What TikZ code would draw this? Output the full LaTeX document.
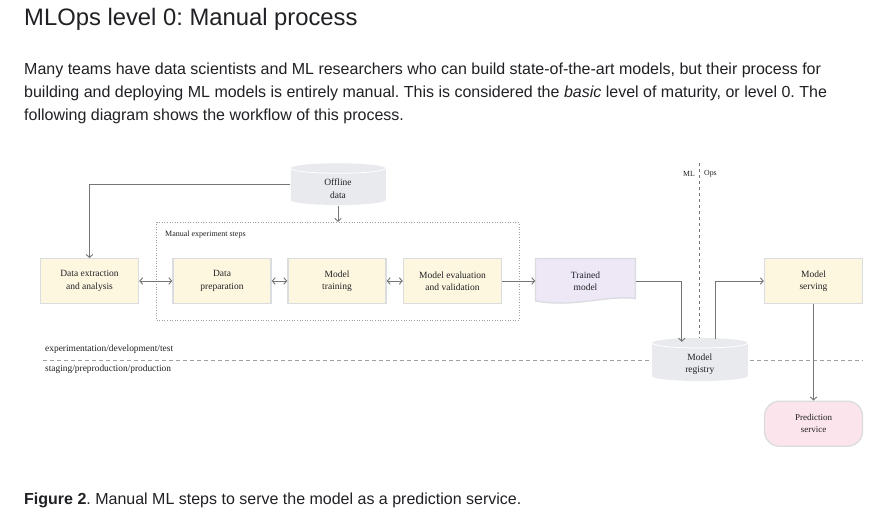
\documentclass[tikz,border=0pt]{standalone}
\usepackage{fontspec}
\setmainfont{Liberation Serif}
\newfontfamily\uisans{Liberation Sans}
\usetikzlibrary{arrows.meta}
\definecolor{boxfill}{HTML}{FEF7E0}
\definecolor{boxedge}{HTML}{DADCE0}
\definecolor{tmfill}{HTML}{EDE7F6}
\definecolor{psfill}{HTML}{FCE4EC}
\definecolor{cylfill}{HTML}{E8EAED}
\definecolor{linec}{HTML}{757575}
\definecolor{ink}{HTML}{202124}
\definecolor{dashc}{HTML}{9AA0A6}
\newcommand\dfont{\fontsize{9.5}{12.5}\selectfont}
\newcommand\bodyfont{\uisans\fontsize{16}{19}\selectfont}
\frenchspacing
\begin{document}
\begin{tikzpicture}[x=1pt,y=-1pt,
  >={Straight Barb[length=3pt,width=6.5pt]},
  stepbox/.style={draw=boxedge, line width=1.3pt, fill=boxfill, minimum width=98, minimum height=44.5, inner sep=0pt, align=center, font=\dfont, text=ink},
  plain/.style={minimum width=98, minimum height=44.5, inner sep=0pt, align=center, font=\dfont, text=ink},
  lnk/.style={draw=linec, line width=0.9pt},
  hdash/.style={draw=dashc, line width=0.9pt, dash pattern=on 4pt off 3pt},
  bodyline/.style={anchor=base west, font=\bodyfont, text=ink, inner sep=0pt},
  smalltext/.style={font=\fontsize{9.4}{11}\selectfont, text=ink, inner sep=0pt}]
\fill[white] (0,0) rectangle (890,513);
\useasboundingbox (0,0) rectangle (890,513);

% header and caption
\node[anchor=base west, font=\uisans\fontsize{23.8}{28}\selectfont, text=ink, inner sep=0pt] (title) at (24,26) {MLOps level 0: Manual process};
\node[bodyline] (p1) at (24,75) {Many teams have data scientists and ML researchers who can build state-of-the-art models, but their process for};
\node[bodyline] (p2) at (24,97.7) {building and deploying ML models is entirely manual. This is considered the \textit{basic} level of maturity, or level 0. The};
\node[bodyline] (p3) at (24,120.7) {following diagram shows the workflow of this process.};
\node[bodyline] (cap) at (24,504) {\textbf{Figure 2}. Manual ML steps to serve the model as a prediction service.};

% separators
\coordinate (hl1) at (43,360);
\coordinate (hl2) at (863,360);
\coordinate (mltop) at (699.5,163);
\draw[hdash] (hl1) -- (hl2);
\draw[draw=linec, line width=0.8pt, dash pattern=on 3pt off 3pt] (mltop) -- (699.5,338);
\node[anchor=east, font=\fontsize{7.8}{9}\selectfont, text=ink, inner sep=0pt] (ml) at (695,174) {ML};
\node[anchor=west, font=\fontsize{7.8}{9}\selectfont, text=ink, inner sep=0pt] (ops) at (704,174) {Ops};
\node[smalltext, anchor=west] (exptext) at (45,349) {experimentation/development/test};
\node[smalltext, anchor=west] (stagtext) at (45,369.5) {staging/preproduction/production};

% cylinders
\fill[cylfill] (290.5,168.3) rectangle (385.5,200);
\fill[cylfill] (338,200) ellipse[x radius=47.5, y radius=5];
\fill[cylfill] (338,168.3) ellipse[x radius=47.5, y radius=5];
\draw[white, line width=0.8pt] (290.5,168.3) arc[start angle=180, end angle=0, x radius=47.5, y radius=5];
\node[plain, minimum width=95, minimum height=42] (off) at (338,184.3) {\rule{0pt}{15pt}Offline\\data};

\fill[cylfill] (652,343) rectangle (747.5,376);
\fill[cylfill] (699.75,376) ellipse[x radius=47.75, y radius=5];
\fill[cylfill] (699.75,343) ellipse[x radius=47.75, y radius=5];
\draw[white, line width=0.8pt] (652,343) arc[start angle=180, end angle=0, x radius=47.75, y radius=5];
\node[plain, minimum width=95.5, minimum height=43] (reg) at (699.75,359.5) {\rule{0pt}{16pt}Model\\registry};

% experiment box
\node[draw=dashc, line width=0.8pt, dash pattern=on 0.8pt off 1.8pt, minimum width=362.3, minimum height=97.7, inner sep=0pt] (exp) at (337.8,271.2) {};
\node[anchor=west, font=\fontsize{8}{9}\selectfont, text=ink, inner sep=0pt] (explab) at (165,235) {Manual experiment steps};

% step boxes
\node[stepbox] (dea) at (89.5,281) {Data extraction\\and analysis};
\node[stepbox] (dp) at (222,281) {Data\\preparation};
\node[stepbox] (mt) at (337,281) {Model\\training};
\node[stepbox] (mev) at (452.5,281) {Model evaluation\\and validation};
\node[stepbox] (ms) at (813.5,281) {Model\\serving};

% trained model (document shape)
\filldraw[fill=tmfill, draw=boxedge, line width=1.3pt] (535.5,258.5) -- (635.5,258.5) -- (635.5,298.5) .. controls (605,295) and (575,308) .. (535.5,301) -- cycle;
\node[plain, minimum width=100, minimum height=44.5] (tm) at (585.5,281) {Trained\\model};

% prediction service
\node[draw=boxedge, fill=psfill, line width=1.3pt, rounded corners=15pt, minimum width=98, minimum height=45, inner sep=0pt, align=center, font=\fontsize{9}{12}\selectfont, text=ink] (ps) at (813.5,423.7) {Prediction\\service};

% connectors
\draw[lnk,->] (off.west) -| (dea.north);
\draw[lnk,->] (off.south) -- (off.south |- exp.north);
\draw[lnk,<->] (dea) -- (dp);
\draw[lnk,<->] (dp) -- (mt);
\draw[lnk,<->] (mt) -- (mev);
\draw[lnk,->] (mev) -- (tm);
\draw[lnk,->] (tm.east) -| ([xshift=-18pt,yshift=-4pt]reg.north);
\draw[lnk,->] ([xshift=16pt,yshift=-1.5pt]reg.north) |- (ms.west);
\draw[lnk,->] (ms) -- (ps);
\end{tikzpicture}
\end{document}
